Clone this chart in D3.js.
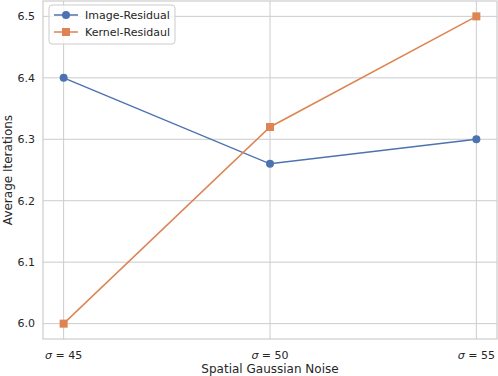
<!DOCTYPE html>
<html>
<head>
<meta charset="utf-8">
<script src="https://d3js.org/d3.v7.min.js"></script>
<style>
  body { margin: 0; background: #fff; }
  svg text { font-family: "DejaVu Sans", sans-serif; fill: #262626; }
</style>
</head>
<body>
<div class="chart"></div>
<script>
const noise = [45, 50, 55];
const imageResidual = [6.4, 6.26, 6.3];
const kernelResidual = [6.0, 6.32, 6.5];
const yTicks = [6.0, 6.1, 6.2, 6.3, 6.4, 6.5];
const seriesNames = ["Image-Residual", "Kernel-Residaul"];
const colors = ["#4c72b0", "#dd8452"];

const width = 498, height = 376;
const margin = {top: 1, right: 1, bottom: 37, left: 43};

const svg = d3.select(".chart").append("svg")
  .attr("width", width)
  .attr("height", height);

const x = d3.scaleLinear().domain([44.5, 55.5]).range([margin.left, width - margin.right]);
const y = d3.scaleLinear().domain([5.975, 6.525]).range([height - margin.bottom, margin.top]);

// grid
svg.append("g").selectAll("line.gy").data(yTicks).join("line")
  .attr("x1", margin.left).attr("x2", width - margin.right)
  .attr("y1", d => y(d)).attr("y2", d => y(d))
  .attr("stroke", "#cccccc").attr("stroke-width", 1);
svg.append("g").selectAll("line.gx").data(noise).join("line")
  .attr("x1", d => x(d)).attr("x2", d => x(d))
  .attr("y1", margin.top).attr("y2", height - margin.bottom)
  .attr("stroke", "#cccccc").attr("stroke-width", 1);

// frame
svg.append("rect")
  .attr("x", margin.left).attr("y", margin.top)
  .attr("width", width - margin.left - margin.right)
  .attr("height", height - margin.top - margin.bottom)
  .attr("fill", "none").attr("stroke", "#cccccc").attr("stroke-width", 1.2);

// y tick labels
svg.append("g").selectAll("text").data(yTicks).join("text")
  .attr("x", margin.left - 8).attr("y", d => y(d))
  .attr("dy", "0.35em").attr("text-anchor", "end")
  .attr("font-size", 11).text(d => d.toFixed(1));

// x tick labels
const xt = svg.append("g").selectAll("text").data(noise).join("text")
  .attr("x", d => x(d)).attr("y", height - margin.bottom + 20)
  .attr("text-anchor", "middle").attr("font-size", 11);
xt.append("tspan").attr("font-style", "italic").text("σ");
xt.append("tspan").text(d => " = " + d);

// axis labels
svg.append("text")
  .attr("x", (margin.left + width - margin.right) / 2).attr("y", height - 3)
  .attr("text-anchor", "middle").attr("font-size", 12)
  .text("Spatial Gaussian Noise");
svg.append("text")
  .attr("transform", `translate(12, ${(margin.top + height - margin.bottom) / 2}) rotate(-90)`)
  .attr("text-anchor", "middle").attr("font-size", 12)
  .text("Average Iterations");

// lines
const line = d3.line().x((d, i) => x(noise[i])).y(d => y(d));
const seriesData = [imageResidual, kernelResidual];

seriesData.forEach((vals, k) => {
  svg.append("path").datum(vals)
    .attr("d", line).attr("fill", "none")
    .attr("stroke", colors[k]).attr("stroke-width", 1.5);
});

svg.append("g").selectAll("circle").data(imageResidual).join("circle")
  .attr("cx", (d, i) => x(noise[i])).attr("cy", d => y(d))
  .attr("r", 4).attr("fill", colors[0]);

svg.append("g").selectAll("rect").data(kernelResidual).join("rect")
  .attr("x", (d, i) => x(noise[i]) - 4).attr("y", d => y(d) - 4)
  .attr("width", 8).attr("height", 8).attr("fill", colors[1]);

// legend
const legend = svg.append("g").attr("transform", "translate(49, 5)");
legend.append("rect")
  .attr("width", 126).attr("height", 39).attr("rx", 3)
  .attr("fill", "#fff").attr("fill-opacity", 0.8)
  .attr("stroke", "#cccccc").attr("stroke-width", 1);

seriesNames.forEach((name, k) => {
  const ly = 10 + k * 17;
  legend.append("line")
    .attr("x1", 5).attr("x2", 29).attr("y1", ly).attr("y2", ly)
    .attr("stroke", colors[k]).attr("stroke-width", 1.5);
  if (k === 0) {
    legend.append("circle").attr("cx", 17).attr("cy", ly).attr("r", 4).attr("fill", colors[k]);
  } else {
    legend.append("rect").attr("x", 13).attr("y", ly - 4).attr("width", 8).attr("height", 8).attr("fill", colors[k]);
  }
  legend.append("text")
    .attr("x", 36).attr("y", ly).attr("dy", "0.35em")
    .attr("font-size", 11).text(name);
});
</script>
</body>
</html>
